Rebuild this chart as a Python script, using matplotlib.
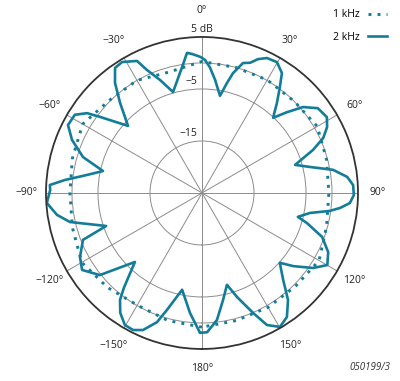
import numpy as np
import matplotlib
matplotlib.use('Agg')
import matplotlib.pyplot as plt
from matplotlib.lines import Line2D

plt.rcParams['font.family'] = ['Open Sans', 'DejaVu Sans']

# 1 kHz response (deg, dB)
ang_1k = [-180, -165, -150, -135, -120, -105, -90, -75, -60, -45, -30, -15,
          0, 15, 30, 45, 60, 75, 90, 105, 120, 135, 150, 165, 180]
db_1k = [0.8, 0.4, -0.1, 0.7, 1.7, 0.8, 0.4, 0.8, 1.5, 0.2, 0.0, -0.9,
         0.3, 0.0, 0.1, 0.0, 0.6, -0.2, -0.6, -0.2, 1.0, 0.4, 0.4, 0.4, 0.8]

# 2 kHz response (deg, dB)
ang_2k = [-179.2, -177.9, -174.3, -168.4, -163.3, -160.8, -156.7, -153.3, -149.7,
          -145.7, -142.5, -140.5, -135.8, -128.8, -122.7, -117.7, -111.5, -109.0,
          -102.4, -98.6, -93.7, -88.9, -87.0, -84.6, -81.1, -77.5, -73.2, -67.8,
          -63.1, -58.4, -55.2, -53.3, -47.8, -42.3, -38.3, -34.8, -31.4, -26.2,
          -24.1, -20.4, -16.0, -9.0, -6.1, -4.1, -0.8, 1.3, 3.6, 6.6, 10.5, 12.8,
          14.5, 17.5, 20.3, 22.7, 25.7, 29.8, 33.7, 36.3, 39.8, 43.4, 46.4, 49.6,
          53.8, 58.7, 62.2, 65.6, 68.8, 73.2, 76.5, 80.0, 83.7, 87.0, 90.8, 93.9,
          96.2, 98.0, 100.5, 104.0, 106.0, 110.1, 115.1, 119.9, 124.0, 128.7,
          131.9, 137.0, 141.2, 145.6, 149.8, 153.8, 157.0, 161.4, 164.8, 168.9,
          173.3, 177.9, 180.8]
db_2k = [1.9, 0.8, -1.8, -6.0, -1.5, 1.3, 3.7, 4.5, 4.4,
         2.9, 0.9, -1.4, -6.5, 0.2, 2.4, 1.5, -0.4, -5.5,
         1.0, 3.2, 4.9, 4.2, 4.3, 1.5, -2.6, -5.5, -1.1, 2.0,
         3.9, 3.7, 1.9, -0.5, -5.8, -1.6, 2.0, 4.3, 4.5, 3.3,
         0.9, -1.8, -4.8, -0.5, 2.1, 1.8, 1.2, 0.6, -0.8, -3.1, -6.0, -3.3,
         -1.2, 1.2, 1.7, 2.9, 3.8, 4.0, 2.7, 0.3, -2.5, -5.1, -2.5, 0.5,
         2.6, 3.1, 2.2, 0.6, -2.1, -6.3, -3.6, 0.6, 3.1, 4.1, 4.2, 3.5,
         1.7, -0.2, -3.9, -6.0, -4.0, -0.4, 1.8, 2.8, 0.8, -2.5,
         -4.9, -2.1, 1.4, 3.9, 4.8, 3.3, 0.0, -3.9, -6.7, -4.0,
         -0.4, 1.8, 1.9]

angle_ticks = [0, 30, 60, 90, 120, 150, 180, -150, -120, -90, -60, -30]
ring_values = [-15, -5, 0]
ring_labels = {5: '5 dB', -5: '\u22125', -15: '\u221215'}

teal = '#137d99'

fig = plt.figure(figsize=(4.0, 3.81), dpi=100)
ax = fig.add_axes([0.115, 0.084, 0.78, 0.819], projection='polar')
ax.set_theta_zero_location('N')
ax.set_theta_direction(-1)
ax.set_thetalim(-np.pi, np.pi)
ax.set_rlim(-25, 5)

ax.set_xticks(np.deg2rad(angle_ticks))
ax.set_xticklabels([])
ax.set_yticks(ring_values)
ax.set_yticklabels([])
ax.grid(True, color='#8c8c8c', linewidth=0.7)
ax.spines['polar'].set_color('#333333')
ax.spines['polar'].set_linewidth(1.3)

# angle labels outside the ring (0 deg sits above the "5 dB" label)
for a in angle_ticks:
    r_lab = 10.0 if a == 0 else 8.8
    ax.text(np.deg2rad(a), r_lab, '%s\u00b0' % str(a).replace('-', '\u2212'),
            ha='center', va='center', fontsize=7.5, color='#222222', clip_on=False)

# ring labels next to the 0 deg spoke
for r, txt in ring_labels.items():
    if r == 5:
        ax.annotate(txt, (0, r), xytext=(0, 1.5), textcoords='offset points',
                    ha='center', va='bottom', fontsize=7.5, color='#222222')
    else:
        ax.annotate(txt, (0, r), xytext=(-3, 1.5), textcoords='offset points',
                    ha='right', va='bottom', fontsize=7.5, color='#222222')

ax.plot(np.deg2rad(ang_1k), db_1k, color=teal, linewidth=2.1,
        linestyle=(0, (1, 2.1)))
ax.plot(np.deg2rad(ang_2k), db_2k, color=teal, linewidth=1.9,
        solid_joinstyle='round', solid_capstyle='round')

handles = [Line2D([], [], color=teal, linewidth=2.1, linestyle=(0, (1, 2.1))),
           Line2D([], [], color=teal, linewidth=1.9)]
fig.legend(handles, ['1 kHz', '2 kHz'], loc='upper right',
           bbox_to_anchor=(0.99, 1.0), frameon=False, markerfirst=False,
           handlelength=1.8, labelspacing=1.1, fontsize=7.5)

fig.text(0.975, 0.02, '050199/3', ha='right', va='bottom', fontsize=7,
         style='italic', color='#333333')

fig.savefig('out.png', dpi=100)
